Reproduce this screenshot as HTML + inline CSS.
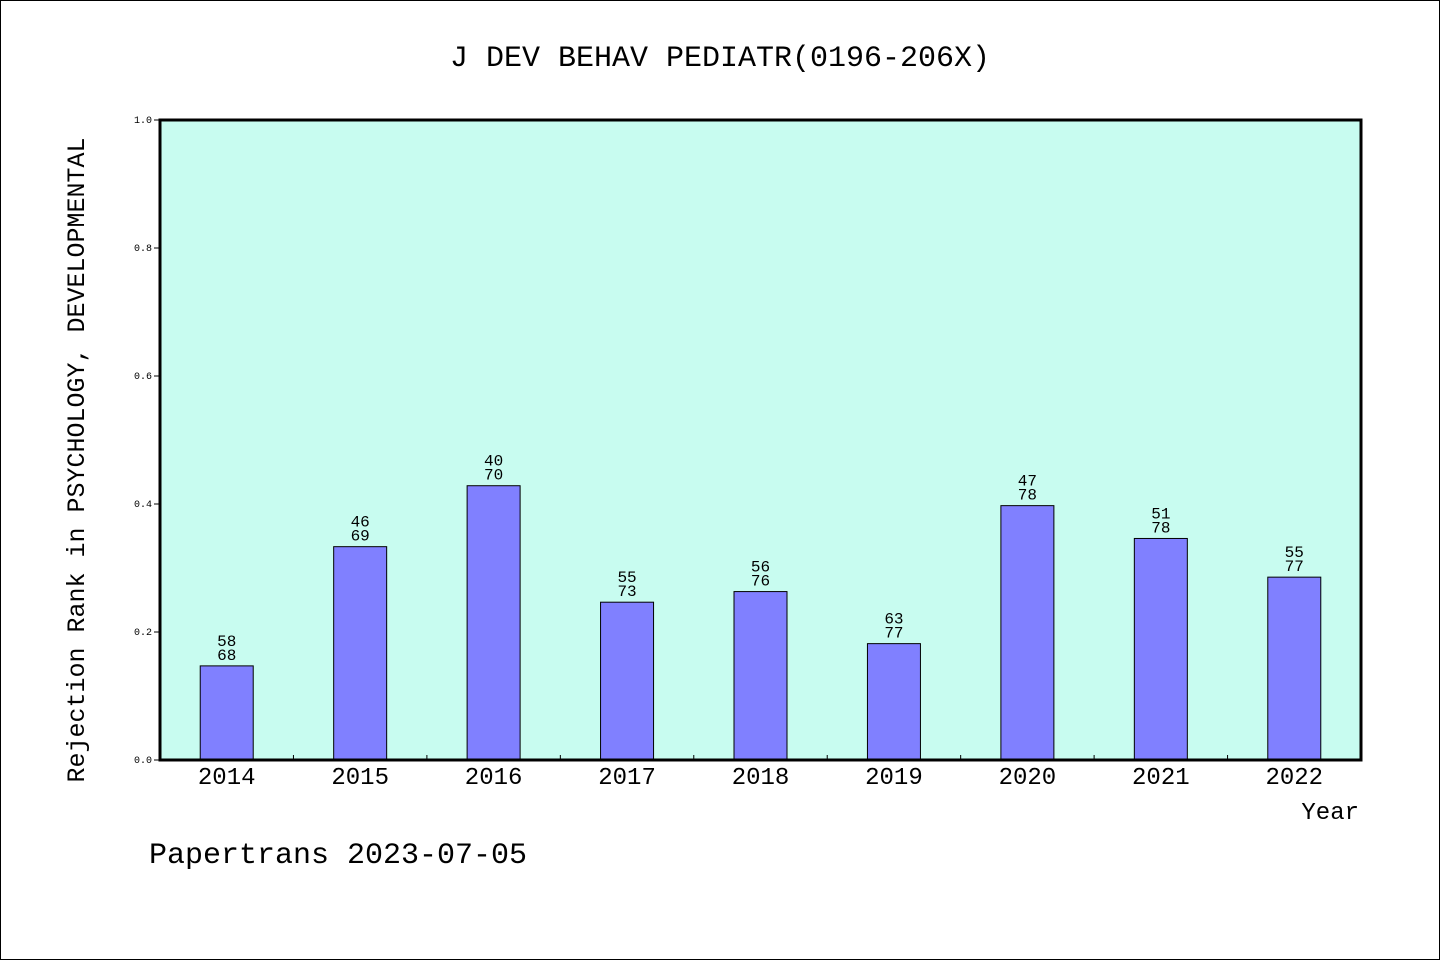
<!DOCTYPE html>
<html><head><meta charset="utf-8">
<style>
html,body{margin:0;padding:0;background:#fff;}
#wrap{width:1440px;height:960px;position:relative;overflow:hidden;}
#border{position:absolute;left:0;top:0;width:1440px;height:960px;box-sizing:border-box;border:1px solid #000;pointer-events:none;}
#chart{position:absolute;left:0;top:0;}
svg text{font-family:"Liberation Mono","WenQuanYi Zen Hei",monospace;fill:#000;}
</style></head>
<body>
<div id="wrap">
<svg id="chart" width="1440" height="960"></svg>
<div id="border"></div>
</div>
<script>
const years = ["2014","2015","2016","2017","2018","2019","2020","2021","2022"];
const ranks = [58,46,40,55,56,63,47,51,55];
const totals = [68,69,70,73,76,77,78,78,77];
const yTicks = [0,0.2,0.4,0.6,0.8,1.0];
const yTickLabels = ["0.0","0.2","0.4","0.6","0.8","1.0"];

const NS="http://www.w3.org/2000/svg";
const svg=document.getElementById('chart');
const L=160,R=1361,T=120,B=760;
const band=(R-L)/years.length;
const x=i=>L+band*(i+0.5);
const y=v=>B-(B-T)*v;
function mk(tag,attrs,parent){const e=document.createElementNS(NS,tag);for(const k in attrs)e.setAttribute(k,attrs[k]);(parent||svg).appendChild(e);return e;}

const bg=mk('rect',{x:L,y:T,width:R-L,height:B-T,fill:'#c8fcf0'});



const title=mk('text',{x:720,y:66,'font-size':30,'text-anchor':'middle'});
title.textContent='J DEV BEHAV PEDIATR(0196-206X)';



yTicks.forEach((t,i)=>{
  const tk=mk('line',{x1:L-6,x2:L,y1:y(t),y2:y(t),stroke:'#000','stroke-width':1});
  
  
  const lb=mk('text',{x:L-8,y:y(t)+3,'font-size':10,'text-anchor':'end'});
  lb.textContent=yTickLabels[i];
  
  
});

for(let i=1;i<years.length;i++){
  const xb=L+band*i;
  const tk=mk('line',{x1:xb,x2:xb,y1:B-5,y2:B,stroke:'#000','stroke-width':1});
  
  
}

const bw=53;
years.forEach((yr,i)=>{
  const v=1-ranks[i]/totals[i];
  const b=mk('rect',{x:x(i)-bw/2,y:y(v),width:bw,height:B-y(v),fill:'#8080ff',stroke:'#000','stroke-width':1});
  
  
  const t1=mk('text',{x:x(i),y:y(v)-20,'font-size':16,'text-anchor':'middle'});
  t1.textContent=ranks[i];
  
  
  const t2=mk('text',{x:x(i),y:y(v)-6,'font-size':16,'text-anchor':'middle'});
  t2.textContent=totals[i];
  
  
  const xl=mk('text',{x:x(i),y:784,'font-size':24,'text-anchor':'middle'});
  xl.textContent=yr;
  
  
});

const frame=mk('rect',{x:L,y:T,width:R-L,height:B-T,fill:'none',stroke:'#000','stroke-width':3});



const xt=mk('text',{x:1359,y:819,'font-size':24,'text-anchor':'end'});
xt.textContent='Year';



const yt=mk('text',{x:0,y:0,'font-size':25,'text-anchor':'middle',transform:'translate(84,460) rotate(-90)'});
yt.textContent='Rejection Rank in PSYCHOLOGY, DEVELOPMENTAL';



const ft=mk('text',{x:149,y:863,'font-size':30});
ft.textContent='Papertrans 2023-07-05';


</script>
</body></html>
